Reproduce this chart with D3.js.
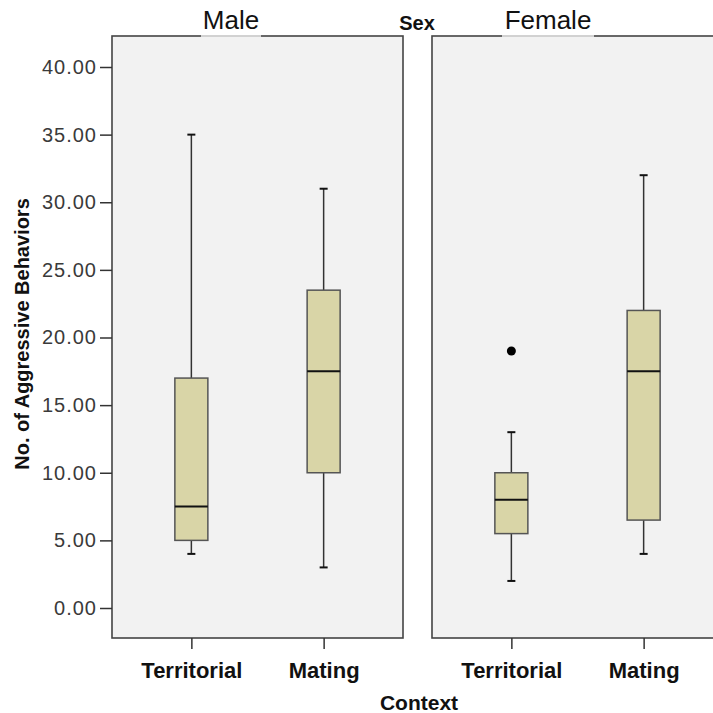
<!DOCTYPE html>
<html>
<head>
<meta charset="utf-8">
<script src="https://cdn.jsdelivr.net/npm/d3@7"></script>
<style>
html,body{margin:0;padding:0;background:#fff;}
svg{display:block;font-family:"Liberation Sans",Arial,sans-serif;}
</style>
</head>
<body>
<svg id="chart" width="713" height="713"></svg>
<script>
const panels = ["Male", "Female"];
const categories = ["Territorial", "Mating"];
const yTicks = [0, 5, 10, 15, 20, 25, 30, 35, 40];
// [panel, category, low whisker, Q1, median, Q3, high whisker]
const boxStats = [
  ["Male", "Territorial", 4, 5, 7.5, 17, 35],
  ["Male", "Mating", 3, 10, 17.5, 23.5, 31],
  ["Female", "Territorial", 2, 5.5, 8, 10, 13],
  ["Female", "Mating", 4, 6.5, 17.5, 22, 32]
];
const outliers = [
  ["Female", "Territorial", 19]
];

(function () {
const svg = d3.select("#chart");
const panelTop = 36, panelBottom = 638;
const panelX = {Male: [112, 403], Female: [432, 723]};
const y = d3.scaleLinear().domain([0, 40]).range([608, 67]);

const boxW = 33, capW = 8;
const stroke = "#333";

panels.forEach(p => {
  const [x0, x1] = panelX[p];
  const x = d3.scalePoint().domain(categories).range([x0, x1]).padding(0.6);
  const g = svg.append("g");
  g.append("rect").attr("x", x0).attr("y", panelTop).attr("width", x1 - x0).attr("height", panelBottom - panelTop)
    .attr("fill", "#f2f2f2").attr("stroke", "#444").attr("stroke-width", 1.6);
  const xa = d3.axisBottom(x).tickSize(11).tickPadding(12);
  const gx = g.append("g").attr("transform", `translate(0,${panelBottom})`).call(xa);
  gx.select(".domain").remove();
  gx.selectAll(".tick line").attr("stroke", "#333").attr("stroke-width", 1.5);
  gx.selectAll(".tick text").attr("fill", "#111").attr("font-size", 22).attr("font-weight", "bold")
    .attr("y", 40).attr("dy", null);

  boxStats.filter(d => d[0] === p).forEach(d => {
    const cx = x(d[1]);
    const [lo, q1, med, q3, hi] = d.slice(2);
    const bg = g.append("g");
    bg.append("line").attr("x1", cx).attr("x2", cx).attr("y1", y(hi)).attr("y2", y(q3)).attr("stroke", stroke).attr("stroke-width", 1.5);
    bg.append("line").attr("x1", cx).attr("x2", cx).attr("y1", y(q1)).attr("y2", y(lo)).attr("stroke", stroke).attr("stroke-width", 1.5);
    bg.append("line").attr("x1", cx - capW/2).attr("x2", cx + capW/2).attr("y1", y(hi)).attr("y2", y(hi)).attr("stroke", "#111").attr("stroke-width", 2);
    bg.append("line").attr("x1", cx - capW/2).attr("x2", cx + capW/2).attr("y1", y(lo)).attr("y2", y(lo)).attr("stroke", "#111").attr("stroke-width", 2);
    bg.append("rect").attr("x", cx - boxW/2).attr("y", y(q3)).attr("width", boxW).attr("height", y(q1) - y(q3))
      .attr("fill", "#d9d5a7").attr("stroke", "#555").attr("stroke-width", 1.5);
    bg.append("line").attr("x1", cx - boxW/2).attr("x2", cx + boxW/2).attr("y1", y(med)).attr("y2", y(med)).attr("stroke", "#111").attr("stroke-width", 2);
  });
  outliers.filter(d => d[0] === p).forEach(d => {
    g.append("circle").attr("cx", x(d[1])).attr("cy", y(d[2])).attr("r", 4.5).attr("fill", "#000");
  });
});

const ya = d3.axisLeft(y).tickValues(yTicks).tickFormat(d3.format(".2f")).tickSize(12).tickPadding(3);
const gy = svg.append("g").attr("transform", "translate(112,0)").call(ya);
gy.select(".domain").remove();
gy.selectAll(".tick line").attr("stroke", "#333").attr("stroke-width", 1.5);
gy.selectAll(".tick text").attr("fill", "#3a3a3a").attr("font-size", 20).attr("letter-spacing", 1);

const hdr = [["Male", 231, 60], ["Female", 548, 92]];
hdr.forEach(([t, cx, w]) => {
  svg.append("rect").attr("x", cx - w/2).attr("y", panelTop - 1.5).attr("width", w).attr("height", 2.5).attr("fill", "#fff").attr("opacity", 0.7);
  svg.append("text").attr("x", cx).attr("y", 29).attr("text-anchor", "middle").attr("font-size", 26).attr("fill", "#111").text(t);
});
svg.append("text").attr("x", 417).attr("y", 30).attr("text-anchor", "middle").attr("font-size", 20).attr("font-weight", "bold").attr("fill", "#111").text("Sex");

svg.append("text").attr("transform", "translate(29,334) rotate(-90)").attr("text-anchor", "middle")
  .attr("font-size", 20).attr("font-weight", "bold").attr("fill", "#111").text("No. of Aggressive Behaviors");
svg.append("text").attr("x", 419).attr("y", 710).attr("text-anchor", "middle")
  .attr("font-size", 21).attr("font-weight", "bold").attr("fill", "#111").text("Context");
})();
</script>
</body>
</html>
